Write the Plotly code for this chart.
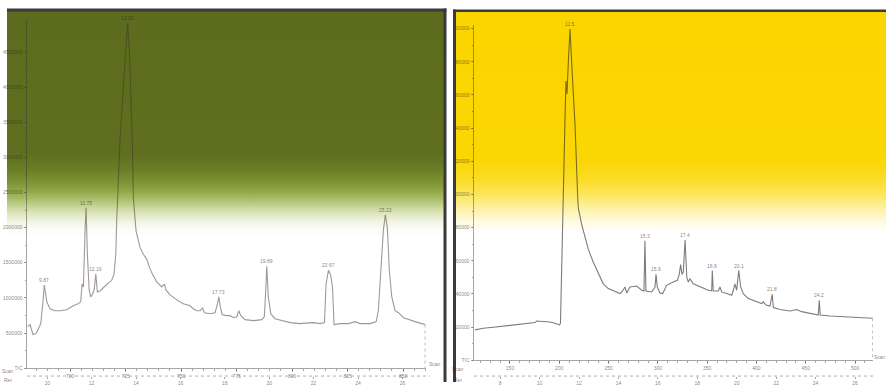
import base64
import plotly.graph_objects as go

# ---------------- data ----------------
left_scan = [680.9, 682.0, 683.3, 684.7, 685.6, 686.8, 687.7, 688.4, 689.5, 691.0,
             693.2, 695.5, 698.5, 701.4, 703.6, 704.8, 705.4, 706.0, 706.8, 707.2,
             707.8, 708.6, 709.3, 710.2, 710.9, 711.6, 712.3, 713.5, 715.3, 717.1,
             718.8, 719.8, 720.6, 721.0, 721.5, 722.5, 723.7, 725.0, 725.9, 726.8,
             727.5, 728.1, 728.5, 729.7, 731.5, 733.0, 734.6, 735.7, 737.3, 739.1,
             741.3, 742.5, 743.2, 745.0, 748.1, 751.0, 754.1, 755.5, 757.1, 758.6,
             759.6, 760.5, 763.1, 765.3, 766.4, 767.0, 767.7, 768.5, 770.6, 772.1,
             773.6, 775.1, 776.0, 776.9, 778.8, 782.6, 786.4, 787.5, 788.2, 788.6,
             789.3, 790.4, 792.3, 796.1, 799.1, 803.3, 809.6, 812.6, 814.6, 815.3,
             816.4, 817.4, 818.2, 818.9, 821.6, 825.4, 828.4, 830.6, 835.1, 837.9,
             838.9, 840.0, 841.1, 842.0, 842.9, 843.8, 844.9, 846.4, 847.9, 850.2,
             852.4, 855.4, 858.4, 859.9]
left_tic = [592000, 620000, 479000, 493000, 549000, 634000, 916000, 1183000, 944000, 845000,
            817000, 817000, 831000, 887000, 916000, 944000, 1197000, 1155000, 2000000, 2282000,
            1620000, 1113000, 1014000, 1056000, 1127000, 1338000, 1085000, 1099000, 1155000, 1211000,
            1254000, 1338000, 1620000, 2099000, 2563000, 3268000, 3831000, 4465000, 4916000, 4465000,
            3831000, 3127000, 2423000, 1958000, 1718000, 1620000, 1549000, 1437000, 1324000, 1225000,
            1155000, 1197000, 1113000, 1042000, 972000, 916000, 887000, 845000, 817000, 817000,
            859000, 789000, 775000, 789000, 916000, 1014000, 873000, 761000, 747000, 747000,
            718000, 732000, 817000, 747000, 690000, 676000, 690000, 732000, 1155000, 1451000,
            1014000, 775000, 704000, 676000, 648000, 634000, 648000, 634000, 648000, 1197000,
            1394000, 1324000, 1155000, 620000, 634000, 634000, 662000, 634000, 634000, 662000,
            831000, 1394000, 1958000, 2183000, 2000000, 1394000, 1014000, 817000, 789000, 718000,
            690000, 662000, 634000, 620000]
left_peak_scan = [688.4, 707.2, 711.6, 725.9, 767.0, 788.6, 816.4, 842.0]
left_scan_ticks = [700, 725, 750, 775, 800, 825, 850]
left_y_ticks = [0, 500000, 1000000, 1500000, 2000000, 2500000, 3000000, 3500000, 4000000, 4500000]

right_scan = [114.5, 122.9, 133.1, 146.7, 156.8, 167.0, 175.4, 177.1, 183.8, 190.6,
              195.7, 200.0, 201.2, 202.7, 204.1, 205.8, 206.8, 207.8, 209.3, 210.9,
              212.9, 216.0, 218.7, 219.3, 222.7, 226.1, 229.4, 234.5, 239.6, 244.6,
              249.7, 254.8, 261.6, 264.3, 266.6, 268.4, 271.7, 278.5, 283.6, 285.9,
              286.9, 287.9, 293.7, 297.1, 298.1, 299.4, 302.1, 304.9, 308.9, 315.6,
              319.7, 321.7, 323.1, 324.5, 325.8, 327.6, 329.3, 330.9, 332.6, 335.9,
              339.4, 342.7, 346.1, 351.1, 354.6, 355.2, 356.2, 361.3, 363.0, 364.7,
              369.8, 374.9, 376.5, 378.2, 379.9, 382.0, 384.0, 386.6, 391.7, 396.8,
              405.3, 406.9, 409.7, 413.7, 416.0, 417.1, 423.8, 434.0, 440.8, 445.9,
              457.6, 462.7, 463.7, 464.7, 474.6, 488.0, 501.6, 511.8, 517.8]
right_tic = [18300, 19300, 19900, 20700, 21300, 21900, 22700, 23700, 23300, 23100,
             22300, 21300, 22100, 68100, 97900, 145700, 168400, 160600, 181500, 199800,
             175500, 141700, 97900, 91900, 82000, 74000, 67000, 59100, 52100, 46100,
             43200, 41800, 40200, 41800, 44200, 40600, 44200, 44800, 42200, 41800,
             72100, 41800, 41200, 44200, 51800, 44200, 40600, 40200, 45200, 47200,
             48200, 51800, 57700, 51800, 53100, 72500, 50100, 47200, 49100, 46100,
             45200, 44600, 43600, 42200, 41800, 54100, 41800, 41800, 44200, 41200,
             40200, 39200, 42200, 46100, 42200, 54100, 44200, 40200, 37200, 36200,
             34200, 35200, 33300, 32700, 39800, 31800, 30600, 29700, 30600, 29300,
             27900, 27300, 36200, 27300, 26700, 26300, 25800, 25700, 25300]
right_peak_scan = [210.9, 286.9, 298.1, 327.6, 355.2, 382.0, 416.0, 463.7]
right_scan_ticks = [150, 200, 250, 300, 350, 400, 450, 500]
right_y_ticks = [0, 20000, 40000, 60000, 80000, 100000, 120000, 140000, 160000, 180000, 200000]

# scan -> retention time (min)
def ret_left(s):
    return s / 10.0 - 58.97

def ret_right(s):
    return s / 20.0 + 1.0

LEFT_RANGE = [680.6, 860.5]
RIGHT_RANGE = [113.5, 518.2]
LEFT_YMAX = 4950000
RIGHT_YMAX = 202000

# ---------------- layout helpers ----------------
W, H = 886, 386
def PX(x):
    return x / W
def PY(y):
    return 1 - y / H

TXT = 'rgba(45,40,40,0.6)'
AX = 'rgba(60,55,55,0.45)'
FONT = 'Liberation Sans, Arial, sans-serif'

fig = go.Figure()
fig.add_trace(go.Scatter(x=left_scan, y=left_tic, mode='lines', xaxis='x', yaxis='y',
                         line=dict(color='rgba(70,50,50,0.5)', width=1.1),
                         hoverinfo='skip', showlegend=False))
fig.add_trace(go.Scatter(x=[left_scan[-1], left_scan[-1]], y=[left_tic[-1], 0], mode='lines',
                         xaxis='x', yaxis='y', line=dict(color='rgba(70,60,60,0.35)', width=1, dash='dot'),
                         hoverinfo='skip', showlegend=False))
fig.add_trace(go.Scatter(x=right_scan, y=right_tic, mode='lines', xaxis='x3', yaxis='y3',
                         line=dict(color='rgba(40,35,35,0.6)', width=1.1),
                         hoverinfo='skip', showlegend=False))
fig.add_trace(go.Scatter(x=[right_scan[-1], right_scan[-1]], y=[right_tic[-1], 0], mode='lines',
                         xaxis='x3', yaxis='y3', line=dict(color='rgba(70,60,60,0.35)', width=1, dash='dot'),
                         hoverinfo='skip', showlegend=False))
# retention-time helper axes
fig.add_trace(go.Scatter(x=[ret_left(LEFT_RANGE[0]), ret_left(LEFT_RANGE[1])], y=[0, 0], xaxis='x2', yaxis='y',
                         mode='markers', marker=dict(opacity=0), hoverinfo='skip', showlegend=False))
fig.add_trace(go.Scatter(x=[ret_right(RIGHT_RANGE[0]), ret_right(RIGHT_RANGE[1])], y=[0, 0], xaxis='x4', yaxis='y3',
                         mode='markers', marker=dict(opacity=0), hoverinfo='skip', showlegend=False))

tickfont = dict(size=5, color=TXT, family=FONT)
common_x = dict(showgrid=False, zeroline=False, showline=True, linecolor=AX, linewidth=1,
                ticks='outside', ticklen=2.5, tickcolor=AX, tickwidth=1, tickfont=tickfont)
common_y = dict(showgrid=False, zeroline=False, showline=True, linecolor=AX, linewidth=1,
                ticks='outside', ticklen=2.5, tickcolor=AX, tickwidth=1, tickfont=tickfont)

left_top_px = 372 - LEFT_YMAX / 14085.0
right_top_px = 364 - RIGHT_YMAX / 597.0

layout = dict(
    width=W, height=H, margin=dict(l=0, r=0, t=0, b=0),
    paper_bgcolor='white', plot_bgcolor='rgba(0,0,0,0)', showlegend=False,
    font=dict(family=FONT),
    xaxis=dict(domain=[PX(27), PX(426.4)], range=LEFT_RANGE, anchor='y',
               tickvals=left_scan_ticks, ticktext=[str(v) for v in left_scan_ticks],
               minor=dict(ticks='outside', ticklen=1.5, dtick=5, tick0=0, tickcolor=AX), **common_x),
    yaxis=dict(domain=[PY(372), PY(left_top_px)], range=[0, LEFT_YMAX], anchor='x',
               tickvals=left_y_ticks, ticktext=['TIC'] + [str(v) for v in left_y_ticks[1:]],
               minor=dict(ticks='outside', ticklen=1.5, dtick=250000, tick0=0, tickcolor=AX), **common_y),
    xaxis2=dict(overlaying='x', anchor='free', position=PY(380), side='bottom',
                range=[ret_left(LEFT_RANGE[0]), ret_left(LEFT_RANGE[1])], dtick=2, tick0=0,
                showgrid=False, zeroline=False, showline=False, ticks='outside', ticklen=2,
                tickcolor=AX, tickfont=tickfont),
    xaxis3=dict(domain=[PX(474), PX(873)], range=RIGHT_RANGE, anchor='y3',
                tickvals=right_scan_ticks, ticktext=[str(v) for v in right_scan_ticks],
                minor=dict(ticks='outside', ticklen=1.5, dtick=10, tick0=0, tickcolor=AX), **common_x),
    yaxis3=dict(domain=[PY(364), PY(right_top_px)], range=[0, RIGHT_YMAX], anchor='x3',
                tickvals=right_y_ticks, ticktext=['TIC'] + [str(v) for v in right_y_ticks[1:]],
                minor=dict(ticks='outside', ticklen=1.5, dtick=10000, tick0=0, tickcolor=AX), **common_y),
    xaxis4=dict(overlaying='x3', anchor='free', position=PY(380), side='bottom',
                range=[ret_right(RIGHT_RANGE[0]), ret_right(RIGHT_RANGE[1])], dtick=2, tick0=0,
                showgrid=False, zeroline=False, showline=False, ticks='outside', ticklen=2,
                tickcolor=AX, tickfont=tickfont),
)
fig.update_layout(**layout)

# ---------------- background gradients (SVG images) ----------------
PANEL_TOP, PANEL_BOTTOM = 11, 386
green_stops = [(11, (92, 107, 29)), (155, (95, 111, 31)), (170, (105, 124, 37)), (182, (122, 144, 50)),
               (192, (142, 165, 68)), (200, (165, 186, 100)), (208, (195, 211, 145)), (216, (222, 230, 192)),
               (224, (241, 244, 228)), (232, (252, 252, 250)), (240, (255, 255, 255)), (386, (255, 255, 255))]
yellow_stops = [(11, (250, 213, 0)), (160, (250, 214, 3)), (175, (250, 218, 25)), (188, (251, 224, 60)),
                (198, (252, 231, 100)), (207, (253, 238, 145)), (216, (254, 245, 190)), (225, (255, 251, 228)),
                (235, (255, 255, 255)), (386, (255, 255, 255))]

def gradient_svg(stops):
    span = PANEL_BOTTOM - PANEL_TOP
    st = ''.join("<stop offset='%.4f' stop-color='rgb(%d,%d,%d)'/>" % ((y - PANEL_TOP) / span, *c)
                 for y, c in stops)
    svg = ("<svg xmlns='http://www.w3.org/2000/svg' width='100' height='375' viewBox='0 0 100 375' "
           "preserveAspectRatio='none'><defs><linearGradient id='g' x1='0' y1='0' x2='0' y2='1'>"
           + st + "</linearGradient></defs><rect x='0' y='0' width='100' height='375' fill='url(#g)'/></svg>")
    return 'data:image/svg+xml;base64,' + base64.b64encode(svg.encode()).decode()

images = []
for (x0, x1, stops) in [(7, 444, green_stops), (456, 886, yellow_stops)]:
    images.append(dict(source=gradient_svg(stops), xref='paper', yref='paper',
                       x=PX(x0), y=PY(PANEL_TOP), sizex=PX(x1) - PX(x0), sizey=PY(PANEL_TOP) - PY(PANEL_BOTTOM),
                       xanchor='left', yanchor='top', sizing='stretch', layer='below'))
fig.update_layout(images=images)

shapes = []
BORDER = '#3a3a3a'
for (x0, x1, y0, y1) in [(7, 446.5, 8.5, 11.5), (443.5, 446.5, 8.5, 386),
                         (453, 456, 9.5, 386), (453, 886, 9.5, 12)]:
    shapes.append(dict(type='rect', xref='paper', yref='paper', x0=PX(x0), x1=PX(x1),
                       y0=PY(y1), y1=PY(y0), fillcolor=BORDER, line=dict(width=0), layer='above'))
for (x0, x1) in [(27, 430), (474, 876)]:
    shapes.append(dict(type='line', xref='paper', yref='paper', x0=PX(x0), x1=PX(x1),
                       y0=PY(380), y1=PY(380), line=dict(color='rgba(60,55,55,0.4)', width=1, dash='dot'),
                       layer='below'))
fig.update_layout(shapes=shapes)

# ---------------- annotations ----------------
ann = []
for s in left_peak_scan:
    v = left_tic[left_scan.index(s)]
    ann.append(dict(x=s, y=v, xref='x', yref='y', text='%.2f' % ret_left(s), showarrow=False,
                    yshift=5, font=dict(size=5, color=TXT, family=FONT)))
for s in right_peak_scan:
    v = right_tic[right_scan.index(s)]
    ann.append(dict(x=s, y=v, xref='x3', yref='y3', text='%.1f' % ret_right(s), showarrow=False,
                    yshift=5, font=dict(size=5, color=TXT, family=FONT)))
for (x, y, t) in [(8, 375, 'Scan'), (8, 384, 'Ret'), (435, 368, 'Scan'),
                  (458, 373, 'Scan'), (458, 384, 'Ret'), (880, 361, 'Scan')]:
    ann.append(dict(x=PX(x), y=PY(y), xref='paper', yref='paper', text=t, showarrow=False,
                    xanchor='center', yanchor='middle', font=dict(size=5, color=TXT, family=FONT)))
fig.update_layout(annotations=ann)

fig.write_html('out.html')
